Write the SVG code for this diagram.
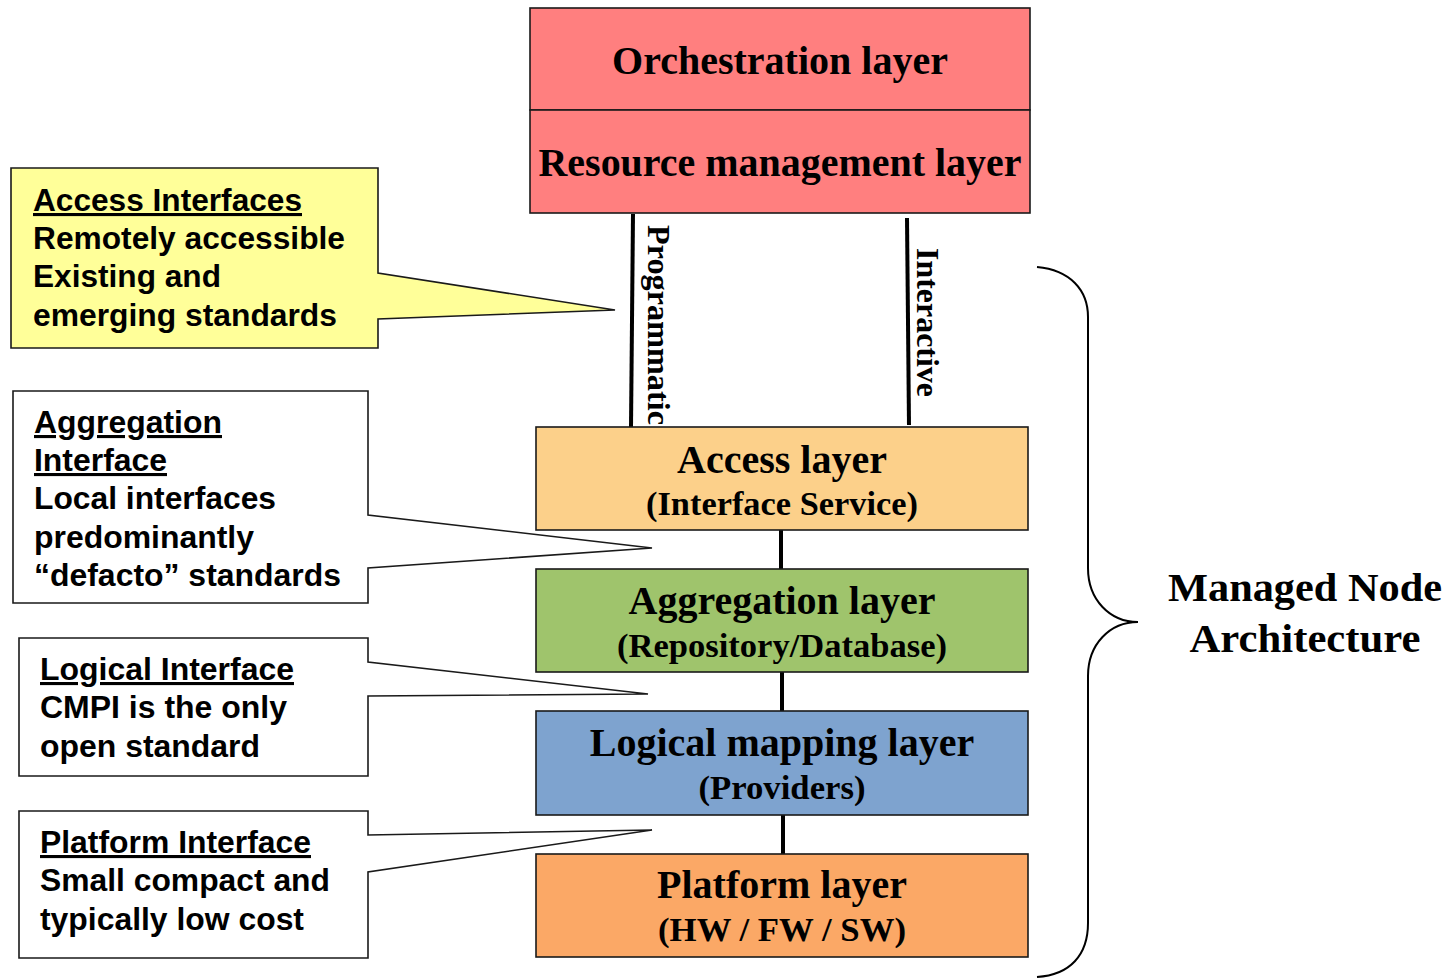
<svg xmlns="http://www.w3.org/2000/svg" width="1452" height="979" viewBox="0 0 1452 979">
<style>
.box{stroke:#1a1a1a;stroke-width:1.6}
.call{fill:#ffffff;stroke:#1a1a1a;stroke-width:1.6}
.yel{fill:#ffff99}
.lt{font-family:"Liberation Serif","Times New Roman",serif;font-weight:bold;fill:#000;text-anchor:middle}
.big{font-size:40px}
.sub{font-size:34px}
.ct{font-family:"Liberation Sans",Arial,sans-serif;font-weight:bold;font-size:31px;fill:#000}
.hd{text-decoration:underline}
.conn{stroke:#000;stroke-width:4;fill:none}
.brace{stroke:#000;stroke-width:2;fill:none}
</style>
<rect width="1452" height="979" fill="#ffffff"/>

<g id="orchestration">
<rect class="box" x="530" y="8" width="500" height="102" fill="#ff7f7f"/>
<text class="lt big" x="780" y="74">Orchestration layer</text>
</g>
<g id="resource-management">
<rect class="box" x="530" y="110" width="500" height="103" fill="#ff7f7f"/>
<text class="lt big" x="780" y="176" textLength="483" lengthAdjust="spacingAndGlyphs">Resource management layer</text>
</g>

<g id="connectors">
<line class="conn" x1="633" y1="214" x2="631" y2="427"/>
<line class="conn" x1="907" y1="218" x2="909" y2="425"/>
<line class="conn" x1="781" y1="530" x2="781" y2="569"/>
<line class="conn" x1="782" y1="672" x2="782" y2="711"/>
<line class="conn" x1="783" y1="815" x2="783" y2="854"/>
<text class="lt" style="font-size:32px;text-anchor:start" transform="translate(648,225) rotate(90)" textLength="200" lengthAdjust="spacingAndGlyphs">Programmatic</text>
<text class="lt" style="font-size:32px;text-anchor:start" transform="translate(917,248) rotate(90)" textLength="149" lengthAdjust="spacingAndGlyphs">Interactive</text>
</g>

<g id="access-layer">
<rect class="box" x="536" y="427" width="492" height="103" fill="#fcd08a"/>
<text class="lt big" x="782" y="473">Access layer</text>
<text class="lt sub" x="782" y="515" textLength="272" lengthAdjust="spacingAndGlyphs">(Interface Service)</text>
</g>
<g id="aggregation-layer">
<rect class="box" x="536" y="569" width="492" height="103" fill="#9fc46c"/>
<text class="lt big" x="782" y="614">Aggregation layer</text>
<text class="lt sub" x="782" y="657" textLength="330" lengthAdjust="spacingAndGlyphs">(Repository/Database)</text>
</g>
<g id="logical-mapping-layer">
<rect class="box" x="536" y="711" width="492" height="104" fill="#7ea3cf"/>
<text class="lt big" x="782" y="756">Logical mapping layer</text>
<text class="lt sub" x="782" y="799" textLength="167" lengthAdjust="spacingAndGlyphs">(Providers)</text>
</g>
<g id="platform-layer">
<rect class="box" x="536" y="854" width="492" height="103" fill="#fba866"/>
<text class="lt big" x="782" y="898">Platform layer</text>
<text class="lt sub" x="782" y="941" textLength="248" lengthAdjust="spacingAndGlyphs">(HW / FW / SW)</text>
</g>

<g id="access-interfaces">
<path class="call yel" d="M11,168 H378 V273 L615,310 L378,319 V348 H11 Z"/>
<text class="ct hd" x="33" y="211" textLength="269" lengthAdjust="spacingAndGlyphs">Access Interfaces</text>
<text class="ct" x="33" y="249" textLength="312" lengthAdjust="spacingAndGlyphs">Remotely accessible</text>
<text class="ct" x="33" y="287" textLength="188" lengthAdjust="spacingAndGlyphs">Existing and</text>
<text class="ct" x="33" y="326" textLength="304" lengthAdjust="spacingAndGlyphs">emerging standards</text>
</g>

<g id="aggregation-interface">
<path class="call" d="M13,391 H368 V515 L652,548 L368,568 V603 H13 Z"/>
<text class="ct hd" x="34" y="433" textLength="188" lengthAdjust="spacingAndGlyphs">Aggregation</text>
<text class="ct hd" x="34" y="471" textLength="133" lengthAdjust="spacingAndGlyphs">Interface</text>
<text class="ct" x="34" y="509" textLength="242" lengthAdjust="spacingAndGlyphs">Local interfaces</text>
<text class="ct" x="34" y="548" textLength="220" lengthAdjust="spacingAndGlyphs">predominantly</text>
<text class="ct" x="34" y="586" textLength="307" lengthAdjust="spacingAndGlyphs">“defacto” standards</text>
</g>

<g id="logical-interface">
<path class="call" d="M19,638 H368 V662 L648,694 L368,696 V776 H19 Z"/>
<text class="ct hd" x="40" y="680" textLength="254" lengthAdjust="spacingAndGlyphs">Logical Interface</text>
<text class="ct" x="40" y="718" textLength="247" lengthAdjust="spacingAndGlyphs">CMPI is the only</text>
<text class="ct" x="40" y="757" textLength="220" lengthAdjust="spacingAndGlyphs">open standard</text>
</g>

<g id="platform-interface">
<path class="call" d="M19,811 H368 V835 L652,830 L368,872 V958 H19 Z"/>
<text class="ct hd" x="40" y="853" textLength="271" lengthAdjust="spacingAndGlyphs">Platform Interface</text>
<text class="ct" x="40" y="891" textLength="290" lengthAdjust="spacingAndGlyphs">Small compact and</text>
<text class="ct" x="40" y="930" textLength="264" lengthAdjust="spacingAndGlyphs">typically low cost</text>
</g>

<g id="managed-node-architecture">
<path class="brace" d="M1037,267 C1070,270 1088,290 1088,317 V568 C1088,600 1110,622 1138,622 C1110,622 1088,644 1088,676 V923 C1088,955 1070,975 1037,977"/>
<text class="lt" style="font-size:41px" x="1305" y="601" textLength="274" lengthAdjust="spacingAndGlyphs">Managed Node</text>
<text class="lt" style="font-size:41px" x="1305" y="652" textLength="231" lengthAdjust="spacingAndGlyphs">Architecture</text>
</g>
</svg>
